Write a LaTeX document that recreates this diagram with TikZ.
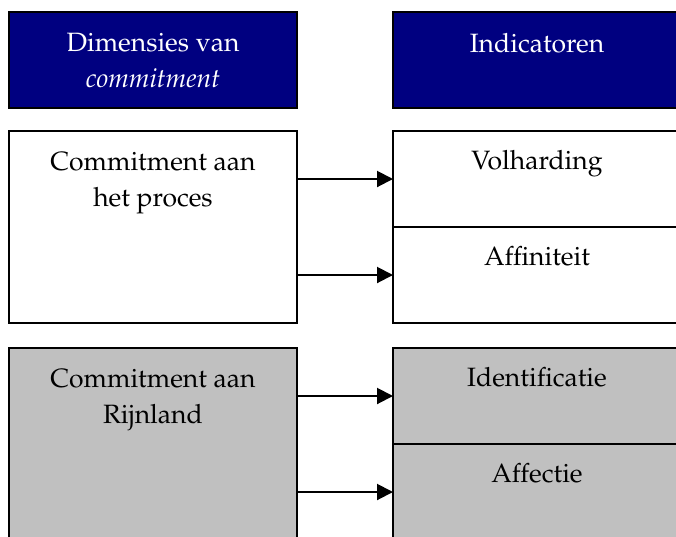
\documentclass[tikz,border=0pt]{standalone}
\usepackage[T1]{fontenc}
\usepackage{mathpazo}
\usetikzlibrary{arrows.meta}
\definecolor{kopblauw}{RGB}{0,0,128}
\definecolor{grijs}{RGB}{192,192,192}
\tikzset{
  blok/.style={draw, line width=2pt, minimum width=288pt, minimum height=96pt, anchor=north west, inner sep=0pt, outer sep=0pt},
  tekst/.style={anchor=base, align=center, font=\fontsize{26.5}{36}\selectfont, inner sep=0pt},
  pijl/.style={line width=2pt, -{Triangle[length=16pt,width=16pt]}}
}
\begin{document}
\begin{tikzpicture}[x=1pt,y=-1pt]
                \useasboundingbox (0,0) rectangle (676,536);

                % Koppen
                \node[blok, fill=kopblauw] (kopdim) at (9,12) {};
                \node[blok, fill=kopblauw] (kopind) at (393,12) {};
                \node[tekst, text=white] (tdim) at ([yshift=-75pt]kopdim.north) {Dimensies van\\\textit{commitment}};
                \node[tekst, text=white] (tind) at ([yshift=-40pt]kopind.north) {Indicatoren};

                % Commitment aan het proces
                \node[blok, minimum height=192pt] (proces) at (9,131) {};
                \node[blok] (volh) at (393,131) {};
                \node[blok] (affin) at (volh.south west) {};
                \node[tekst] (tproces) at ([yshift=-75pt]proces.north) {Commitment aan\\het proces};
                \node[tekst] (tvolh) at ([yshift=-38pt]volh.north) {Volharding};
                \node[tekst] (taffin) at ([yshift=-38pt]affin.north) {Affiniteit};
                \draw[pijl] (volh.west -| proces.east) -- (volh.west);
                \draw[pijl] (affin.west -| proces.east) -- (affin.west);

                % Commitment aan Rijnland
                \node[blok, fill=grijs, minimum height=192pt] (rijnl) at (9,348) {};
                \node[blok, fill=grijs] (ident) at (393,348) {};
                \node[blok, fill=grijs] (affec) at (ident.south west) {};
                \node[tekst] (trijnl) at ([yshift=-75pt]rijnl.north) {Commitment aan\\Rijnland};
                \node[tekst] (tident) at ([yshift=-38pt]ident.north) {Identificatie};
                \node[tekst] (taffec) at ([yshift=-38pt]affec.north) {Affectie};
                \draw[pijl] (ident.west -| rijnl.east) -- (ident.west);
                \draw[pijl] (affec.west -| rijnl.east) -- (affec.west);
            \end{tikzpicture}
\end{document}
